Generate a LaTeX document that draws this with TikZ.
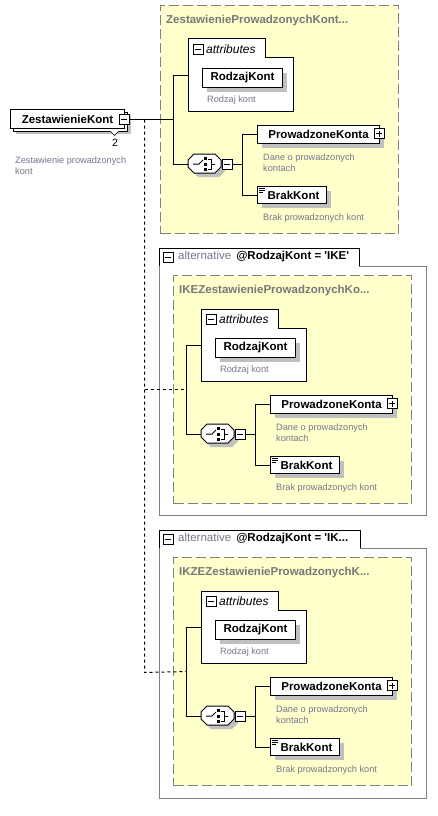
\documentclass[tikz,border=0pt]{standalone}
\usepackage{fontspec}
\setmainfont{Liberation Sans}
\usetikzlibrary{shadows}
\definecolor{ybg}{RGB}{255,255,204}
\definecolor{dgray}{RGB}{128,128,128}
\definecolor{desc}{RGB}{118,118,140}
\definecolor{shadowg}{RGB}{192,192,192}
\definecolor{titleg}{RGB}{120,120,120}
\tikzset{
  elem/.style={draw=black, fill=white, line width=1pt, anchor=north west, inner sep=0pt,
    font=\fontsize{11.5}{13}\selectfont\bfseries,
    drop shadow={shadow xshift=4pt, shadow yshift=-4pt, opacity=1, fill=shadowg}},
  rootbox/.style={draw=black, fill=white, line width=1pt, anchor=north west, inner sep=0pt,
    font=\fontsize{11.5}{13}\selectfont\bfseries},
  descr/.style={anchor=west, inner sep=0pt, text=desc, font=\fontsize{9.2}{10.7}\selectfont, align=left},
  expbox/.style={draw=black, fill=white, line width=0.7pt, minimum size=10pt, inner sep=0pt},
  minusbox/.style={expbox, path picture={\draw[line width=0.7pt]
     ([xshift=2pt]path picture bounding box.west) -- ([xshift=-2pt]path picture bounding box.east);}},
  plusbox/.style={expbox, path picture={\draw[line width=0.7pt]
     ([xshift=2pt]path picture bounding box.west) -- ([xshift=-2pt]path picture bounding box.east)
     ([yshift=-2pt]path picture bounding box.north) -- ([yshift=2pt]path picture bounding box.south);}},
  conn/.style={line width=1pt},
  dotc/.style={line width=1pt, dash pattern=on 3pt off 3pt},
  ybox/.style={draw=dgray, fill=ybg, line width=1pt, dash pattern=on 10pt off 4pt,
    anchor=north west, inner sep=0pt},
  gtitle/.style={anchor=base west, inner sep=0pt, text=titleg, font=\fontsize{11.5}{13}\selectfont\bfseries},
  attrlbl/.style={anchor=west, inner sep=0pt, font=\fontsize{12}{14}\selectfont\itshape},
  althead/.style={anchor=west, inner sep=0pt, font=\fontsize{11.5}{13}\selectfont},
}
\newcommand\schemagrp[3]{%
\begin{scope}[shift={#1}, name prefix=#2-]
  \node[ybox, minimum width=238pt, minimum height=228pt] (yb) at (160,5) {};
  \node[gtitle] (yt) at (166,23.5) {#3};
  % attributes tab box
  \node[anchor=north west, minimum width=105pt, minimum height=72pt, inner sep=0pt] (attr) at (188,39) {};
  \draw[fill=white, line width=1pt] (188,39) -- (265,39) -- (265,58) -- (293,58) -- (293,111) -- (188,111) -- cycle;
  \node[minusbox] (attrx) at (198,49.5) {};
  \node[attrlbl] (attrl) at (206,49.5) {attributes};
  \node[elem, minimum width=80pt, minimum height=19pt] (rk) at (202,68) {RodzajKont};
  \node[descr] (rkd) at (207,100) {Rodzaj kont};
  \coordinate (attrin) at (188,75.5);
  \coordinate (hub) at (173.5,119.5);
  % sequence compositor
  \node[anchor=north west, minimum width=33pt, minimum height=19pt, inner sep=0pt] (seq) at (188,155) {};
  \fill[shadowg] (192,164) -- (198,158) -- (219,158) -- (225,164) -- (225,171) -- (219,177) -- (198,177) -- (192,171) -- cycle;
  \draw[fill=white, line width=1pt] (188,160) -- (194,154) -- (215,154) -- (221,160) -- (221,167) -- (215,173) -- (194,173) -- (188,167) -- cycle;
  \draw[line width=1pt] (193,164) -- (199,164) -- (203,160);
  \fill (204,157) rectangle (207,160);
  \fill (204,162.5) rectangle (207,165.5);
  \fill (204,168) rectangle (207,171);
  \draw[line width=1pt] (208,159) -- (211,159) -- (211,169) -- (208,169);
  \draw[line width=1pt] (211,164) -- (215,164);
  \node[minusbox] (seqx) at (227,164.5) {};
  \coordinate (fork) at (242.5,164.5);
  % children
  \node[elem, minimum width=122pt, minimum height=18pt] (pk) at (257,125) {ProwadzoneKonta\hspace{3pt}};
  \node[plusbox] (pkx) at (379,133.5) {};
  \node[descr] (pkd) at (263,162.5) {Dane o prowadzonych\\kontach};
  \node[elem, minimum width=69pt, minimum height=17pt] (bk) at (257,186) {\hspace{3pt}BrakKont};
  \draw[line width=0.7pt] (259,188.5) -- (265,188.5) (259,190.5) -- (265,190.5) (259,192.5) -- (263,192.5);
  \node[descr] (bkd) at (263,218) {Brak prowadzonych kont};
  % connectors
  \draw[conn] (hub) |- (attrin);
  \draw[conn] (hub) |- (seq.west);
  \draw[conn] (seqx.east) -- (fork);
  \draw[conn] (fork) |- (pk.west);
  \draw[conn] (fork) |- (bk.west);
\end{scope}}
\begin{document}
\begin{tikzpicture}[x=1pt, y=-1pt]
  \useasboundingbox (0,0) rectangle (438,816);
  \fill[white] (0,0) rectangle (438,816);
  % alternative frames
  \draw[dgray, line width=1pt] (359,266) -- (426,266) -- (426,515) -- (159,515) -- (159,266);
  \draw[black, line width=1pt] (159,266) -- (159,248) -- (359,248) -- (359,266);
  \node[minusbox] (a1x) at (168,257) {};
  \node[althead] (a1t) at (178,257) {\textcolor{desc}{alternative}\hspace{5pt}\textbf{@RodzajKont = \textquotesingle IKE\textquotesingle}};
  \draw[dgray, line width=1pt] (360,548) -- (426,548) -- (426,798) -- (159,798) -- (159,548);
  \draw[black, line width=1pt] (159,548) -- (159,530) -- (360,530) -- (360,548);
  \node[minusbox] (a2x) at (168,539) {};
  \node[althead] (a2t) at (178,539) {\textcolor{desc}{alternative}\hspace{5pt}\textbf{@RodzajKont = \textquotesingle IK...}};
  % groups
  \schemagrp{(0,0)}{g0}{ZestawienieProwadzonychKont...}
  \schemagrp{(13,270)}{g1}{IKEZestawienieProwadzonychKo...}
  \schemagrp{(13,552)}{g2}{IKZEZestawienieProwadzonychK...}
  % root element
  \fill[shadowg] (16,115) rectangle (131,134);
  \draw[fill=white, line width=1pt] (13,112) rectangle (127,131);
  \node[rootbox, minimum width=114pt, minimum height=19pt] (root) at (10,109) {ZestawienieKont};
  \node[minusbox] (rootx) at (124,119.5) {};
  \draw[fill=white, line width=0.7pt] (110,131) -- (114.5,135.5) -- (119,131);
  \node[inner sep=0pt, font=\fontsize{10.5}{12}\selectfont] (rootn) at (115,143) {2};
  \node[descr] (rootd) at (15,166) {Zestawienie prowadzonych\\kont};
  % root connectors
  \draw[conn] (rootx.east) -- (g0-hub);
  \coordinate (dtop) at (144.5,119.5);
  \coordinate (dbot) at (144.5,672.5);
  \draw[dotc] (dtop) -- (dbot) -- (g2-hub);
  \draw[dotc] (g1-hub -| dtop) -- (g1-hub);
\end{tikzpicture}
\end{document}
